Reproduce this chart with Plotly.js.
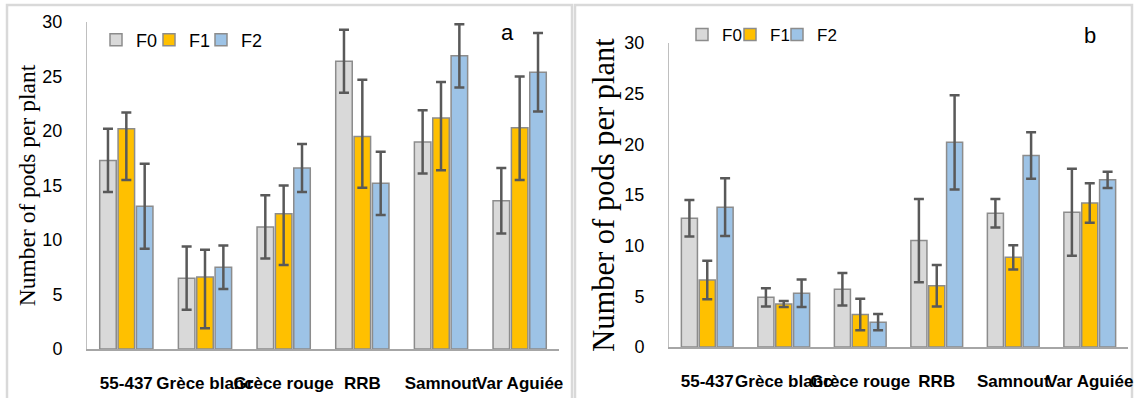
<!DOCTYPE html>
<html>
<head>
<meta charset="utf-8">
<script src="https://cdn.plot.ly/plotly-3.0.1.min.js"></script>
<style>
  html, body { margin: 0; padding: 0; background: #ffffff; }
  #chart { width: 1135px; height: 398px; }
</style>
</head>
<body>
<div id="chart"></div>
<script>
// ---------- data ----------
const categories = ["55-437", "Grèce blanc", "Grèce rouge", "RRB", "Samnout", "Var Aguiée"];
const seriesNames = ["F0", "F1", "F2"];

// panel a
const a_F0 = [17.3, 6.5, 11.2, 26.4, 19.0, 13.6];
const a_F0_err = [2.9, 2.9, 2.9, 2.9, 2.9, 3.0];
const a_F1 = [20.2, 6.6, 12.4, 19.5, 21.2, 20.3];
const a_F1_errPlus = [1.5, 2.5, 2.6, 5.2, 3.3, 4.7];
const a_F1_errMinus = [4.7, 4.7, 4.7, 4.7, 4.8, 4.8];
const a_F2 = [13.1, 7.5, 16.6, 15.2, 26.9, 25.4];
const a_F2_err = [3.9, 2.0, 2.2, 2.9, 2.9, 3.6];

// panel b
const b_F0 = [12.7, 4.9, 5.7, 10.5, 13.2, 13.3];
const b_F0_err = [1.8, 0.9, 1.6, 4.1, 1.4, 4.3];
const b_F1 = [6.6, 4.25, 3.2, 6.05, 8.85, 14.2];
const b_F1_err = [1.9, 0.3, 1.55, 2.05, 1.2, 1.95];
const b_F2 = [13.8, 5.3, 2.45, 20.2, 18.9, 16.5];
const b_F2_err = [2.85, 1.35, 0.8, 4.65, 2.3, 0.8];

const yTitle = "Number of pods per plant";
const panelLabels = ["a", "b"];

// ---------- styling ----------
const fillColors = ["#D9D9D9", "#FFC000", "#9DC3E6"];
const edgeColor = "#8C8C8C";
const errColor = "#595959";
const W = 1135, H = 398;
const px = v => v / W;
const py = v => 1 - v / H;

function bar(name, idx, y, plus, minus, xa, ya, legendId) {
  return {
    type: "bar", name: name, x: categories, y: y,
    xaxis: xa, yaxis: ya, legend: legendId,
    marker: { color: fillColors[idx], line: { color: edgeColor, width: 1.5 } },
    error_y: {
      type: "data", symmetric: minus === undefined, array: plus,
      arrayminus: minus === undefined ? plus : minus,
      color: errColor, thickness: 2.5, width: 5
    },
    hoverinfo: "skip"
  };
}

const data = [
  bar(seriesNames[0], 0, a_F0, a_F0_err, undefined, "x", "y", "legend"),
  bar(seriesNames[1], 1, a_F1, a_F1_errPlus, a_F1_errMinus, "x", "y", "legend3"),
  bar(seriesNames[2], 2, a_F2, a_F2_err, undefined, "x", "y", "legend4"),
  bar(seriesNames[0], 0, b_F0, b_F0_err, undefined, "x2", "y2", "legend2"),
  bar(seriesNames[1], 1, b_F1, b_F1_err, undefined, "x2", "y2", "legend5"),
  bar(seriesNames[2], 2, b_F2, b_F2_err, undefined, "x2", "y2", "legend6")
];

const tickFont = { family: "Liberation Sans, Arial, sans-serif", size: 18, color: "#000000" };
const catFont = { family: "Liberation Sans, Arial, sans-serif", size: 17, color: "#000000", weight: "bold" };

function xAxis(domain, anchor) {
  return {
    domain: domain, anchor: anchor, type: "category",
    showline: true, linecolor: "#A6A6A6", linewidth: 1.5,
    ticks: "", tickangle: 0, tickfont: catFont, ticklabelstandoff: 18,
    showgrid: false, zeroline: false, fixedrange: true
  };
}
function yAxis(domain, anchor, titleSize, standoff) {
  return {
    domain: domain, anchor: anchor, range: [0, 30], dtick: 5,
    showline: true, linecolor: "#BFBFBF", linewidth: 1,
    ticks: "", tickfont: tickFont, ticklabelstandoff: 20,
    showgrid: false, zeroline: false, fixedrange: true,
    title: { text: yTitle, font: { family: "Liberation Serif, Times New Roman, serif", size: titleSize, color: "#000000" }, standoff: standoff }
  };
}
function legendAt(xPix, yPix, size) {
  return {
    orientation: "h", x: px(xPix), y: py(yPix), xanchor: "left", yanchor: "middle",
    font: { family: "Liberation Sans, Arial, sans-serif", size: size, color: "#000000" },
    bgcolor: "rgba(0,0,0,0)", borderwidth: 0, itemwidth: 30
  };
}

const layout = {
  width: W, height: H,
  margin: { l: 0, r: 0, t: 0, b: 0 },
  paper_bgcolor: "#FFFFFF", plot_bgcolor: "#FFFFFF",
  barmode: "group", bargap: 0.3, bargroupgap: 0.1,
  showlegend: true,
  xaxis: xAxis([px(87), px(559)], "y"),
  yaxis: yAxis([1 - 349 / H, 1 - 22 / H], "x", 23.5, 0),
  xaxis2: xAxis([px(669), px(1128)], "y2"),
  yaxis2: yAxis([1 - 347 / H, 1 - 43 / H], "x2", 30.5, 0),
  legend: legendAt(96, 40, 18),
  legend3: legendAt(149, 40, 18),
  legend4: legendAt(201, 40, 18),
  legend2: legendAt(682, 35, 17),
  legend5: legendAt(730, 35, 17),
  legend6: legendAt(777, 35, 17),
  annotations: [
    { text: panelLabels[0], xref: "paper", yref: "paper", x: px(507), y: py(33), showarrow: false,
      xanchor: "center", yanchor: "middle", font: { family: "Liberation Sans, Arial, sans-serif", size: 22, color: "#000000" } },
    { text: panelLabels[1], xref: "paper", yref: "paper", x: px(1090), y: py(35), showarrow: false,
      xanchor: "center", yanchor: "middle", font: { family: "Liberation Sans, Arial, sans-serif", size: 22, color: "#000000" } }
  ],
  shapes: [
    { type: "rect", xref: "paper", yref: "paper", x0: px(7), x1: px(572), y0: py(420), y1: py(5),
      line: { color: "#D9D9D9", width: 2.5 }, fillcolor: "rgba(0,0,0,0)", layer: "below" },
    { type: "rect", xref: "paper", yref: "paper", x0: px(575), x1: px(1132), y0: py(420), y1: py(5),
      line: { color: "#D9D9D9", width: 2.5 }, fillcolor: "rgba(0,0,0,0)", layer: "below" }
  ]
};

Plotly.newPlot("chart", data, layout, { displayModeBar: false, staticPlot: true });
</script>
</body>
</html>
